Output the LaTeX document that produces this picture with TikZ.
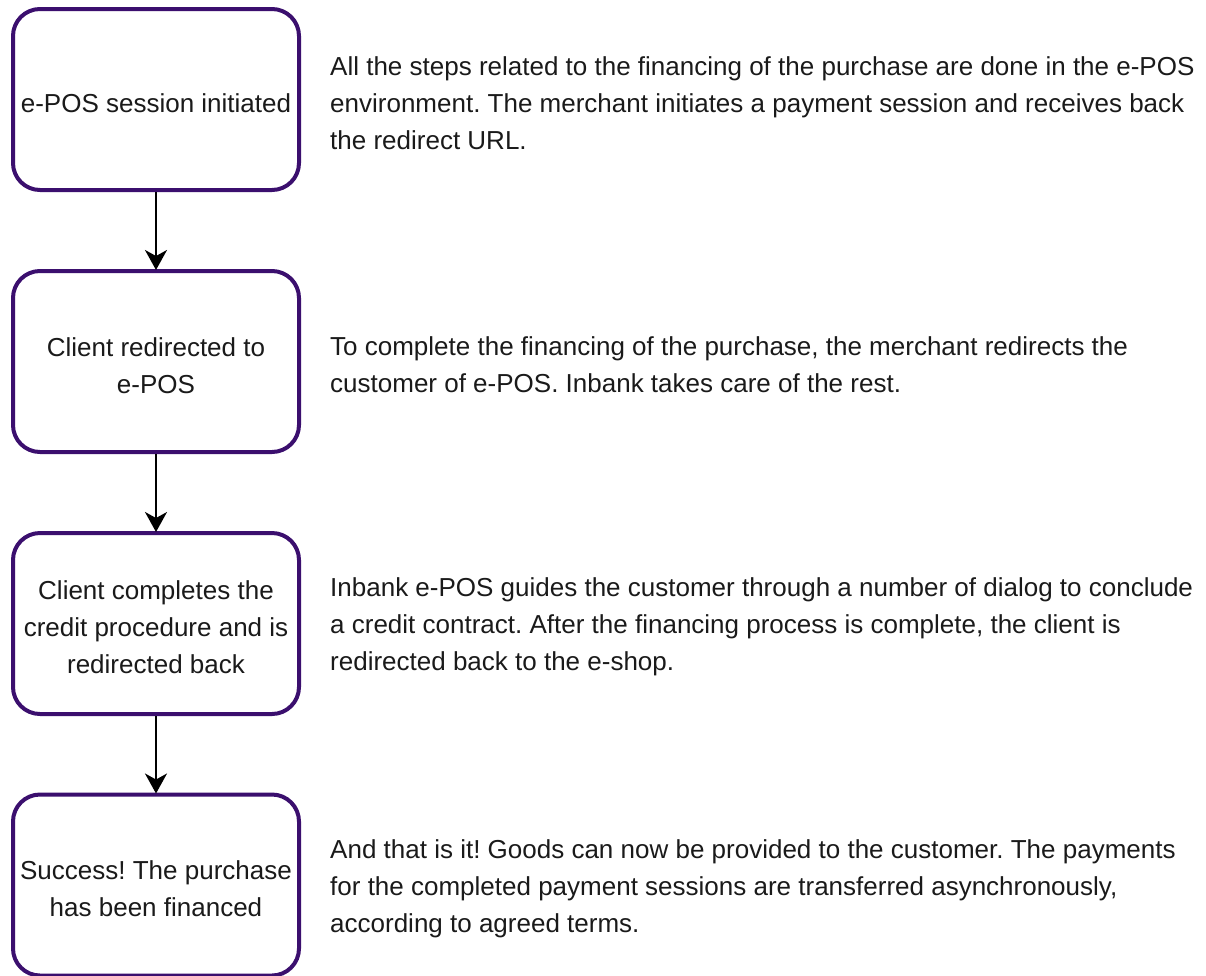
\documentclass[tikz,border=0pt]{standalone}
\usepackage{fontspec}
\setmainfont{Liberation Sans}
\usetikzlibrary{arrows.meta}
\definecolor{boxpurple}{HTML}{3B0F6E}
\definecolor{txt}{HTML}{1A1A1A}
\begin{document}
\frenchspacing
\begin{tikzpicture}[x=1pt,y=-1pt,
 stepbox/.style={draw=boxpurple, line width=4pt, rounded corners=27pt, minimum width=286pt, minimum height=181pt, inner sep=0pt, fill=white},
 steptext/.style={align=center, font=\fontsize{26}{37}\selectfont, inner sep=0pt, text=txt},
 desc/.style={anchor=west, align=left, font=\fontsize{26}{37}\selectfont, inner sep=0pt, text=txt},
 flow/.style={-{Stealth[length=20pt,width=22pt,inset=6pt]}, line width=2pt, shorten >=-1pt}]
\useasboundingbox (0,0) rectangle (1206,975);
\node[stepbox] (b1) at (156,99.5) {};
\node[stepbox] (b2) at (156,361.5) {};
\node[stepbox] (b3) at (156,623.5) {};
\node[stepbox] (b4) at (156,885) {};
\node[steptext] (t1) at ([yshift=-4pt]b1.center) {e-POS session initiated};
\node[steptext] (t2) at ([yshift=-4pt]b2.center) {Client redirected to\\e-POS};
\node[steptext] (t3) at ([yshift=-4pt]b3.center) {Client completes the\\credit procedure and is\\redirected back};
\node[steptext] (t4) at ([yshift=-4pt]b4.center) {Success! The purchase\\has been financed};
\draw[flow] (b1.south) -- (b2.north);
\draw[flow] (b2.south) -- (b3.north);
\draw[flow] (b3.south) -- (b4.north);
\node[desc] (d1) at (330,103) {All the steps related to the financing of the purchase are done in the e-POS\\environment. The merchant initiates a payment session and receives back\\the redirect URL.};
\node[desc] (d2) at (330,365) {To complete the financing of the purchase, the merchant redirects the\\customer of e-POS. Inbank takes care of the rest.};
\node[desc] (d3) at (330,627) {Inbank e-POS guides the customer through a number of dialog to conclude\\a credit contract. After the financing process is complete, the client is\\redirected back to the e-shop.};
\node[desc] (d4) at (330,889) {And that is it! Goods can now be provided to the customer. The payments\\for the completed payment sessions are transferred asynchronously,\\according to agreed terms.};
\end{tikzpicture}
\end{document}
